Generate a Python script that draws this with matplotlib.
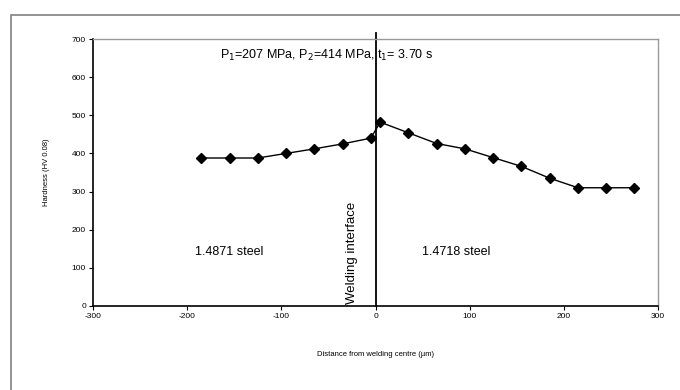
import matplotlib.pyplot as plt
from matplotlib.patches import Rectangle

plt.rcParams['font.family'] = ['Liberation Sans', 'DejaVu Sans']
plt.rcParams['axes.unicode_minus'] = False

# Data: distance from welding centre (um) vs hardness (HV 0.08)
distance = [-185, -155, -125, -95, -65, -35, -5,
            5, 35, 65, 95, 125, 155, 185, 215, 245, 275]
hardness = [388, 388, 388, 400, 412, 425, 440,
            482, 454, 426, 412, 389, 366, 335, 310, 310, 310]

x_ticks = [-300, -200, -100, 0, 100, 200, 300]
y_ticks = [0, 100, 200, 300, 400, 500, 600, 700]

fig = plt.figure(figsize=(6.8, 3.9), dpi=100)

# outer chart frame (cropped at right and bottom)
fig.patches.append(Rectangle((11 / 680, -0.05), 1.0, (390 - 15) / 390 + 0.05,
                             transform=fig.transFigure, fill=False,
                             edgecolor='#808080', linewidth=1.2))

ax = fig.add_axes([93 / 680, 84 / 390, 565 / 680, 267 / 390])

ax.plot(distance, hardness, color='black', marker='D', markersize=5,
        linewidth=1, zorder=3)

# welding interface line
ax.plot([0, 0], [0, 715], color='black', linewidth=1.3, clip_on=False, zorder=2)

ax.set_xlim(-300, 300)
ax.set_ylim(0, 700)
ax.set_xticks(x_ticks)
ax.set_yticks(y_ticks)
ax.tick_params(direction='out', length=3, width=0.8, labelsize=6, pad=2)

for side in ['left', 'bottom']:
    ax.spines[side].set_color('black')
    ax.spines[side].set_linewidth(1.2)
for side in ['top', 'right']:
    ax.spines[side].set_color('#999999')
    ax.spines[side].set_linewidth(1)

ax.set_xlabel('Distance from welding centre (µm)', fontsize=5.5, labelpad=22)
ax.set_ylabel('Hardness (HV 0.08)', fontsize=5.5, labelpad=16)

ax.text(-165, 656, 'P$_1$=207 MPa, P$_2$=414 MPa, t$_1$= 3.70 s',
        fontsize=9, va='center', ha='left')
ax.text(-155, 142, '1.4871 steel', fontsize=9, ha='center', va='center')
ax.text(86, 142, '1.4718 steel', fontsize=9, ha='center', va='center')
ax.text(-25, 5, 'Welding interface', fontsize=9.5, rotation=90,
        ha='center', va='bottom')

fig.savefig('out.png', dpi=100)
